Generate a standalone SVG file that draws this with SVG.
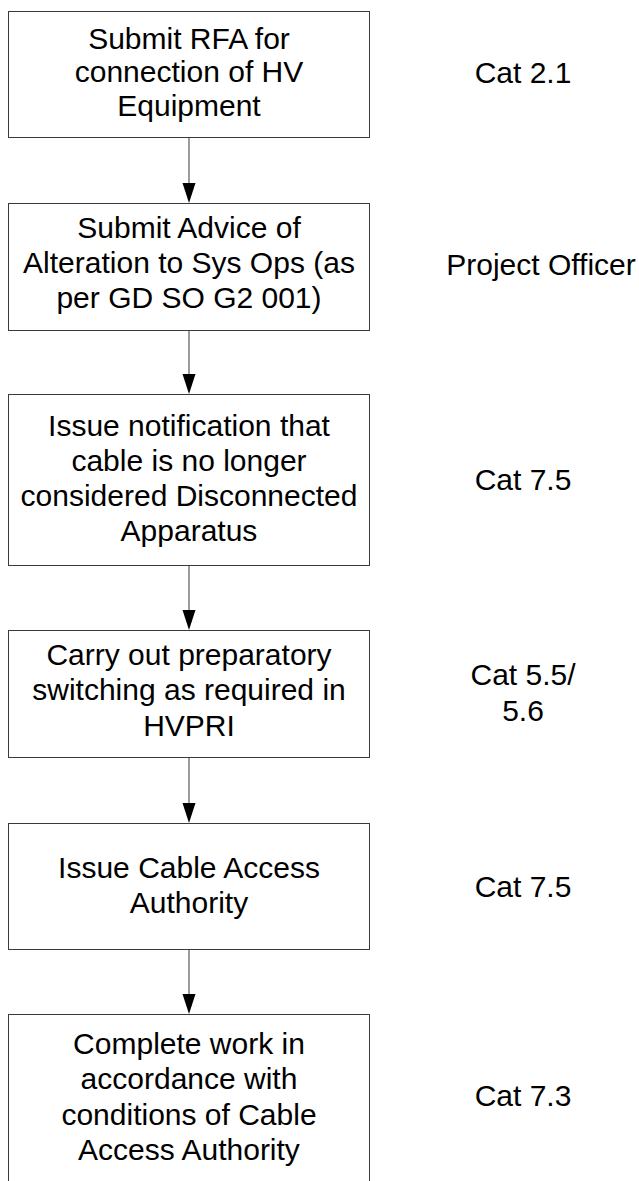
<svg xmlns="http://www.w3.org/2000/svg" width="639" height="1181" viewBox="0 0 639 1181">
  <style>
    .box { fill: #ffffff; stroke: #3a3a3a; stroke-width: 1; }
    .lbl { font-family: "Liberation Sans", Arial, sans-serif; font-size: 30px; fill: #000000; text-anchor: middle; }
    .conn { stroke: #3a3a3a; stroke-width: 1; fill: none; }
    .head { fill: #000000; }
  </style>
  <rect width="639" height="1181" fill="#ffffff"/>

  <!-- connectors between the process steps -->
  <g id="connectors">
    <line class="conn" x1="189" y1="138" x2="189" y2="184"/>
    <path class="head" d="M182.5,183 L195.5,183 L189,203 Z"/>
    <line class="conn" x1="189" y1="331" x2="189" y2="375"/>
    <path class="head" d="M182.5,374 L195.5,374 L189,394 Z"/>
    <line class="conn" x1="189" y1="566" x2="189" y2="611"/>
    <path class="head" d="M182.5,610 L195.5,610 L189,630 Z"/>
    <line class="conn" x1="189" y1="758" x2="189" y2="804"/>
    <path class="head" d="M182.5,803 L195.5,803 L189,823 Z"/>
    <line class="conn" x1="189" y1="950" x2="189" y2="995"/>
    <path class="head" d="M182.5,994 L195.5,994 L189,1014 Z"/>
  </g>

  <g id="step1">
    <rect class="box" x="8.5" y="11.5" width="361" height="126"/>
    <text class="lbl"><tspan x="189" y="48.5">Submit RFA for</tspan><tspan x="189" y="82">connection of HV</tspan><tspan x="189" y="115.5">Equipment</tspan></text>
  </g>
  <g id="step2">
    <rect class="box" x="8.5" y="203.5" width="361" height="127"/>
    <text class="lbl"><tspan x="189" y="238">Submit Advice of</tspan><tspan x="189" y="273">Alteration to Sys Ops (as</tspan><tspan x="189" y="308">per GD SO G2 001)</tspan></text>
  </g>
  <g id="step3">
    <rect class="box" x="8.5" y="394.5" width="361" height="171"/>
    <text class="lbl"><tspan x="189" y="436">Issue notification that</tspan><tspan x="189" y="471">cable is no longer</tspan><tspan x="189" y="506">considered Disconnected</tspan><tspan x="189" y="541">Apparatus</tspan></text>
  </g>
  <g id="step4">
    <rect class="box" x="8.5" y="630.5" width="361" height="127"/>
    <text class="lbl"><tspan x="189" y="665">Carry out preparatory</tspan><tspan x="189" y="700">switching as required in</tspan><tspan x="189" y="736">HVPRI</tspan></text>
  </g>
  <g id="step5">
    <rect class="box" x="8.5" y="823.5" width="361" height="126"/>
    <text class="lbl"><tspan x="189" y="878">Issue Cable Access</tspan><tspan x="189" y="913">Authority</tspan></text>
  </g>
  <g id="step6">
    <rect class="box" x="8.5" y="1014.5" width="361" height="200"/>
    <text class="lbl"><tspan x="189" y="1054">Complete work in</tspan><tspan x="189" y="1089">accordance with</tspan><tspan x="189" y="1125">conditions of Cable</tspan><tspan x="189" y="1160">Access Authority</tspan></text>
  </g>

  <!-- responsibility labels -->
  <g id="roles">
    <text class="lbl" x="523" y="83">Cat 2.1</text>
    <text class="lbl" x="541" y="275">Project Officer</text>
    <text class="lbl" x="523" y="490">Cat 7.5</text>
    <text class="lbl"><tspan x="523" y="685">Cat 5.5/</tspan><tspan x="523" y="721">5.6</tspan></text>
    <text class="lbl" x="523" y="897">Cat 7.5</text>
    <text class="lbl" x="523" y="1106">Cat 7.3</text>
  </g>
</svg>
